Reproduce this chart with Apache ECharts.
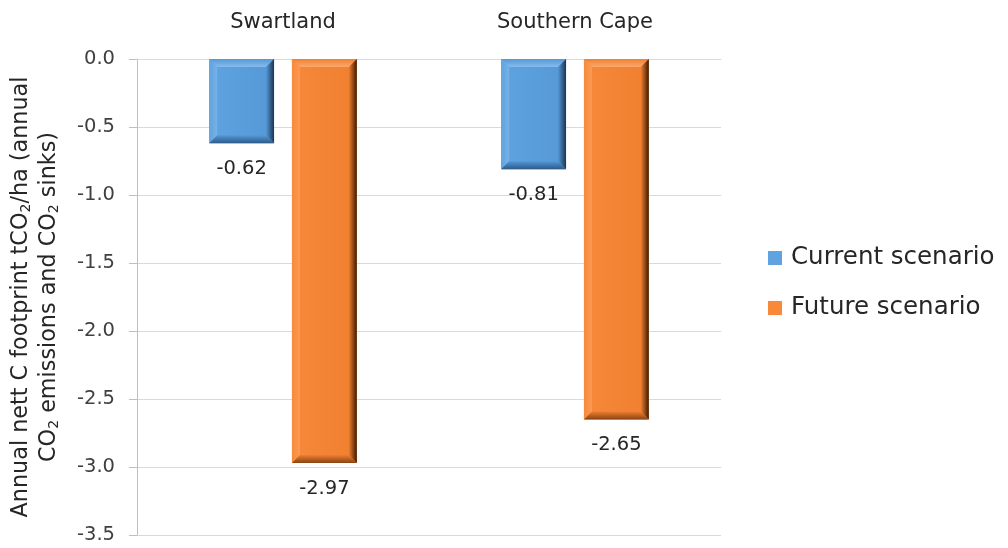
<!DOCTYPE html>
<html>
<head>
<meta charset="utf-8">
<script src="https://cdn.jsdelivr.net/npm/echarts@6/dist/echarts.min.js"></script>
<style>
  html, body { margin: 0; padding: 0; background: #fff; }
  #chart { width: 1008px; height: 548px; }
</style>
</head>
<body>
<div id="chart"></div>
<script>
// Regions compared
const regions = ['Swartland', 'Southern Cape'];
// Annual nett C footprint (tCO2/ha) per scenario
const currentScenario = [-0.62, -0.81];
const futureScenario = [-2.97, -2.65];
const seriesNames = ['Current scenario', 'Future scenario'];
// Value axis range
const yMin = -3.5, yMax = 0, yStep = 0.5;

const FONT = '"DejaVu Sans", "Open Sans", sans-serif';
const TEXT = '#262626';

// Palette for the bevelled bars
const palettes = [
  { face: '#5fa3e0', faceDark: '#5598d6', top: '#86bcec', left: '#78b2e8', right: '#1b3452', bottom: '#2d5a88' },
  { face: '#f8893a', faceDark: '#f07f30', top: '#fba96f', left: '#fa9a55', right: '#3f1a02', bottom: '#8a4414' }
];

// Bar geometry as fractions of the category band
const barFrac = 0.222, gapFrac = 0.0614, bevel = 8;

function makeRender(seriesIdx) {
  const pal = palettes[seriesIdx];
  return function (params, api) {
    const cat = api.value(0), val = api.value(1);
    const band = api.size([1, 0])[0];
    const bw = band * barFrac;
    const off = (seriesIdx === 0 ? -1 : 1) * (band * gapFrac / 2 + bw / 2);
    const p0 = api.coord([cat, 0]);
    const p1 = api.coord([cat, val]);
    const cx = p0[0] + off;
    const x0 = cx - bw / 2, x1 = cx + bw / 2;
    const y0 = Math.min(p0[1], p1[1]), y1 = Math.max(p0[1], p1[1]);
    const b = bevel;
    const lg = (x2, y2, c1, c2) => new echarts.graphic.LinearGradient(0, 0, x2, y2, [
      { offset: 0, color: c1 }, { offset: 1, color: c2 }]);
    const poly = (pts, fill) => ({ type: 'polygon', shape: { points: pts }, style: { fill: fill }, silent: true });
    return {
      type: 'group',
      children: [
        { type: 'rect', shape: { x: x0, y: y0, width: bw, height: y1 - y0 },
          style: { fill: lg(1, 0, pal.face, pal.faceDark) } },
        // top bevel
        poly([[x0, y0], [x1, y0], [x1 - b, y0 + b], [x0 + b, y0 + b]], lg(0, 1, pal.faceDark, pal.top)),
        // left bevel
        poly([[x0, y0], [x0 + b, y0 + b], [x0 + b, y1 - b], [x0, y1]], lg(1, 0, pal.face, pal.left)),
        // right bevel
        poly([[x1, y0], [x1, y1], [x1 - b, y1 - b], [x1 - b, y0 + b]], lg(1, 0, pal.faceDark, pal.right)),
        // bottom bevel
        poly([[x0, y1], [x1, y1], [x1 - b, y1 - b], [x0 + b, y1 - b]], lg(0, 1, pal.faceDark, pal.bottom)),
        {
          type: 'text',
          style: {
            x: cx, y: y1 + 26, text: val.toFixed(2),
            align: 'center', verticalAlign: 'middle',
            fontFamily: FONT, fontSize: 19.5, fill: TEXT
          }
        }
      ]
    };
  };
}

const chart = echarts.init(document.getElementById('chart'), null, { renderer: 'canvas' });

const subStyle = { fontFamily: FONT, fontSize: 14, color: TEXT, padding: [10, 0, 0, 0] };
const mainStyle = { fontFamily: FONT, fontSize: 22.3, color: TEXT };

chart.setOption({
  animation: false,
  grid: { left: 137, right: 287, top: 59, bottom: 13, outerBoundsMode: 'none', containLabel: false },
  legend: {
    orient: 'vertical',
    left: 763, top: 238,
    itemWidth: 14, itemHeight: 14, itemGap: 20,
    icon: 'rect',
    data: seriesNames,
    textStyle: { fontFamily: FONT, fontSize: 24.5, lineHeight: 30, color: TEXT, padding: [0, 0, 0, 4] }
  },
  xAxis: {
    type: 'category',
    position: 'top',
    data: regions,
    axisLine: { show: true, lineStyle: { color: '#d9d9d9' } },
    axisTick: { show: false },
    axisLabel: { fontFamily: FONT, fontSize: 21, color: TEXT, margin: 26 },
    splitLine: { show: false }
  },
  yAxis: {
    type: 'value',
    min: yMin, max: yMax, interval: yStep,
    axisLine: { show: true, lineStyle: { color: '#bfbfbf' } },
    axisTick: { show: true, inside: false, length: 8, lineStyle: { color: '#bfbfbf' } },
    axisLabel: { fontFamily: FONT, fontSize: 19.5, color: '#404040', margin: 22,
      formatter: v => v.toFixed(1) },
    splitLine: { lineStyle: { color: '#d9d9d9' } },
    name: '{m|Annual nett C footprint tCO}{s|2}{m|/ha (annual}\n{m|CO}{s|2}{m| emissions and CO}{s|2}{m| sinks)}',
    nameLocation: 'middle',
    nameRotate: 90,
    nameGap: 74,
    nameTextStyle: {
      fontFamily: FONT, fontSize: 22.3, color: TEXT, lineHeight: 28, align: 'center',
      rich: { m: mainStyle, s: subStyle }
    }
  },
  series: [
    {
      name: seriesNames[0], type: 'custom',
      itemStyle: { color: palettes[0].face },
      renderItem: makeRender(0),
      encode: { x: 0, y: 1 },
      data: currentScenario.map((v, i) => [i, v])
    },
    {
      name: seriesNames[1], type: 'custom',
      itemStyle: { color: palettes[1].face },
      renderItem: makeRender(1),
      encode: { x: 0, y: 1 },
      data: futureScenario.map((v, i) => [i, v])
    }
  ]
});
</script>
</body>
</html>
